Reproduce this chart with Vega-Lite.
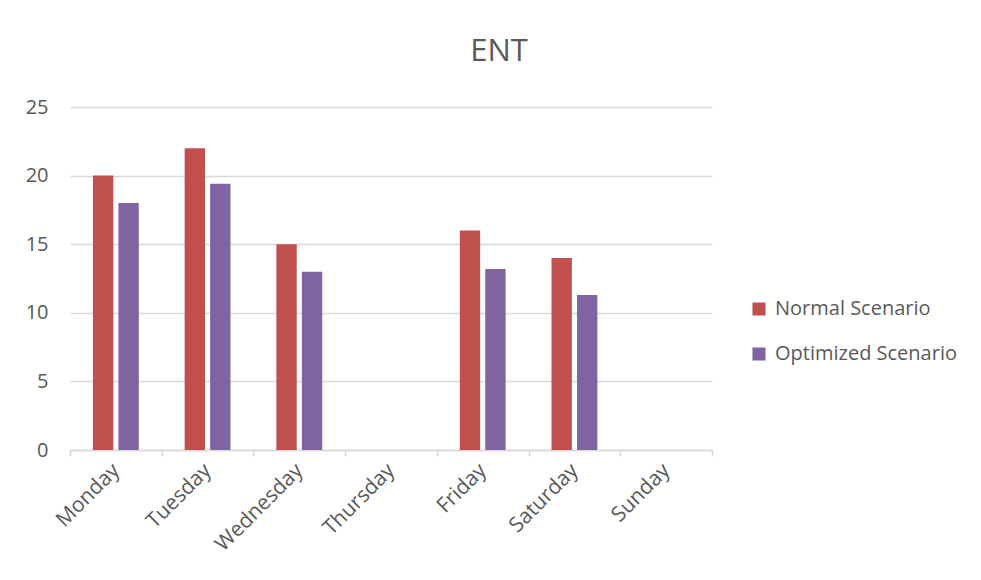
{
  "$schema": "https://vega.github.io/schema/vega-lite/v6.json",
  "width": 642,
  "height": 343,
  "autosize": {"type": "none"},
  "padding": {"left": 70, "top": 107, "right": 269, "bottom": 130},
  "background": "white",
  "title": {
    "text": "ENT",
    "anchor": "middle",
    "frame": "group",
    "dx": 108,
    "offset": 5,
    "baseline": "alphabetic",
    "font": "Open Sans",
    "fontSize": 31,
    "fontWeight": "normal",
    "color": "#595959"
  },
  "data": {
    "values": [
      {"day": "Monday", "series": "Normal Scenario", "value": 20},
      {"day": "Monday", "series": "Optimized Scenario", "value": 18},
      {"day": "Tuesday", "series": "Normal Scenario", "value": 22},
      {"day": "Tuesday", "series": "Optimized Scenario", "value": 19.4},
      {"day": "Wednesday", "series": "Normal Scenario", "value": 15},
      {"day": "Wednesday", "series": "Optimized Scenario", "value": 13},
      {"day": "Friday", "series": "Normal Scenario", "value": 16},
      {"day": "Friday", "series": "Optimized Scenario", "value": 13.2},
      {"day": "Saturday", "series": "Normal Scenario", "value": 14},
      {"day": "Saturday", "series": "Optimized Scenario", "value": 11.3}
    ]
  },
  "mark": {"type": "bar"},
  "encoding": {
    "x": {
      "field": "day",
      "type": "nominal",
      "title": null,
      "scale": {
        "domain": ["Monday", "Tuesday", "Wednesday", "Thursday", "Friday", "Saturday", "Sunday"],
        "paddingInner": 0,
        "paddingOuter": 0
      },
      "axis": {
        "labelAngle": -45,
        "labelAlign": "right",
        "labelBaseline": "middle",
        "labelFont": "Open Sans",
        "labelFontSize": 21,
        "labelColor": "#595959",
        "labelPadding": 11,
        "domainColor": "#d9d9d9",
        "domainWidth": 1.5,
        "tickColor": "#d9d9d9",
        "tickWidth": 1.5,
        "tickSize": 6,
        "tickBand": "extent",
        "grid": false
      }
    },
    "xOffset": {
      "field": "series",
      "type": "nominal",
      "scale": {"paddingInner": 0.2, "paddingOuter": 0.9}
    },
    "y": {
      "field": "value",
      "type": "quantitative",
      "title": null,
      "scale": {"domain": [0, 25], "nice": false},
      "axis": {
        "values": [0, 5, 10, 15, 20, 25],
        "labelFont": "Open Sans",
        "labelFontSize": 20,
        "labelColor": "#595959",
        "labelPadding": 22,
        "domain": false,
        "ticks": false,
        "gridColor": "#d9d9d9",
        "gridWidth": 1.5
      }
    },
    "color": {
      "field": "series",
      "type": "nominal",
      "scale": {
        "domain": ["Normal Scenario", "Optimized Scenario"],
        "range": ["#C0504D", "#8064A2"]
      },
      "legend": {
        "title": null,
        "orient": "none",
        "legendX": 679,
        "legendY": 192,
        "symbolType": "square",
        "symbolSize": 170,
        "symbolStrokeWidth": 0,
        "labelFont": "Open Sans",
        "labelFontSize": 20,
        "labelColor": "#595959",
        "labelOffset": 6,
        "labelLimit": 300,
        "rowPadding": 25
      }
    }
  },
  "config": {
    "view": {"stroke": null}
  }
}
